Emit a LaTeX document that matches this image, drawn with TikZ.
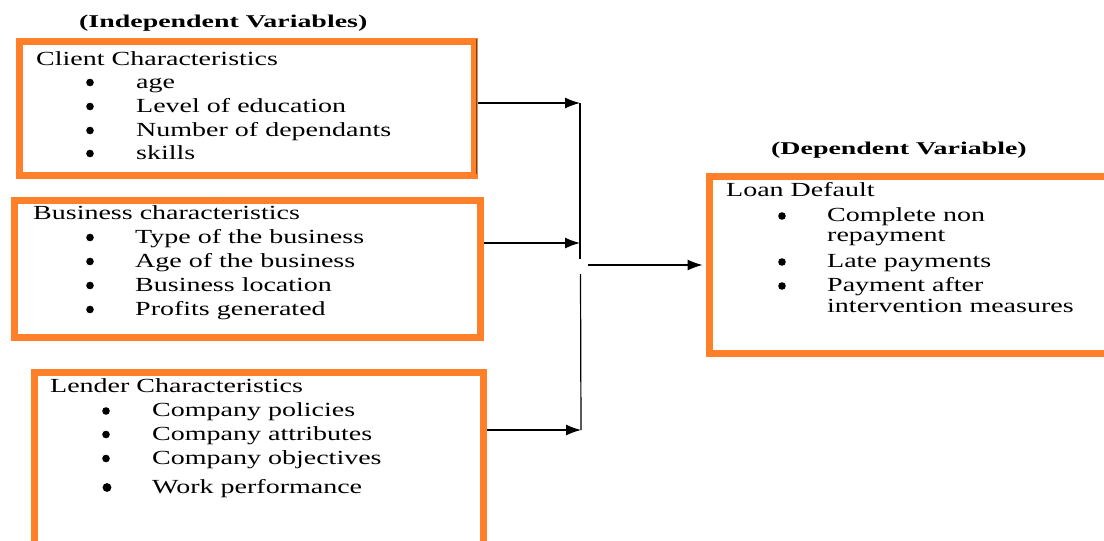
\documentclass[tikz,border=0pt]{standalone}
\usepackage{fontspec}
\setmainfont{Liberation Serif}[FakeStretch=1.4]
\newfontfamily\titlefont{Liberation Serif}[FakeStretch=1.55]
\usetikzlibrary{arrows.meta}
\definecolor{boxorange}{RGB}{255,128,41}
\pgfdeclarelayer{bg}
\pgfsetlayers{bg,main}
\newcommand{\mainsz}{\fontsize{20}{24}\selectfont}
\newcommand{\titlesz}{\fontsize{18}{21}\selectfont\titlefont\bfseries}
\begin{document}
\begin{tikzpicture}[x=1pt,y=-1pt,
  box/.style={draw=boxorange, line width=7pt, fill=none, rectangle, inner sep=0pt, anchor=north west},
  lbl/.style={anchor=base west, inner sep=0pt, font=\mainsz},
  ttl/.style={anchor=base west, inner sep=0pt, font=\titlesz},
  conn/.style={draw=black, line width=1.2pt},
  arr/.style={conn, -{Latex[length=15pt,width=11pt]}},
  dot/.style={fill=black}]
\path[use as bounding box, clip] (0,0) rectangle (1104,541);

% titles
\node[ttl] (tind) at (79,27) {(Independent Variables)};
\node[ttl] (tdep) at (771,154) {(Dependent Variable)};

% boxes
\node[box, minimum width=455.5pt, minimum height=134pt] (client) at (15.5,38) {};
\node[box, minimum width=466pt, minimum height=137pt] (biz) at (10.5,196.5) {};
\node[box, minimum width=449pt, minimum height=232pt] (lender) at (30.5,368.5) {};
\node[box, minimum width=445pt, minimum height=177pt] (loan) at (705.5,172.5) {};
\draw[black!70, line width=1pt] (476,39) -- (476,174);

% client text
\node[lbl] (c0) at (36,65) {Client Characteristics};
\node[lbl] (c1) at (136,88) {age};
\node[lbl] (c2) at (136,112) {Level of education};
\node[lbl] (c3) at (136,136) {Number of dependants};
\node[lbl] (c4) at (136,159) {skills};
\foreach \y in {88,112,136,159} \fill[dot] (90,\y-5.5) circle (3.8);

% business text
\node[lbl] (b0) at (33,219) {Business characteristics};
\node[lbl] (b1) at (135,243) {Type of the business};
\node[lbl] (b2) at (135,267) {Age of the business};
\node[lbl] (b3) at (135,291) {Business location};
\node[lbl] (b4) at (135,315) {Profits generated};
\foreach \y in {243,267,291,315} \fill[dot] (90,\y-5.5) circle (3.8);

% lender text
\node[lbl] (l0) at (50,392) {Lender Characteristics};
\node[lbl] (l1) at (152,416.5) {Company policies};
\node[lbl] (l2) at (152,440) {Company attributes};
\node[lbl] (l3) at (152,464) {Company objectives};
\node[lbl] (l4) at (152,493) {Work performance};
\foreach \y in {416.5,440,464} \fill[dot] (106,\y-5.5) circle (3.8);
\fill[dot] (107,493-5.5) circle (4.4);

% loan text
\node[lbl] (d0) at (726,196.5) {Loan Default};
\node[lbl] (d1) at (827,221.5) {Complete non};
\node[lbl] (d1b) at (827,241.5) {repayment};
\node[lbl] (d2) at (827,267.5) {Late payments};
\node[lbl] (d3) at (827,291.5) {Payment after};
\node[lbl] (d3b) at (827,312.5) {intervention measures};
\foreach \y in {221.5,267.5,291.5} \fill[dot] (782,\y-5.5) circle (3.8);

% connectors
\coordinate (t1) at (580,103);
\coordinate (t2) at (580,243);
\coordinate (t3) at (581,430);
\coordinate (g1) at (580,259);
\coordinate (g2) at (580.5,274);
\coordinate (m) at (588,265);
\begin{pgfonlayer}{bg}
\fill[white] (0,0) rectangle (1104,541);
\draw[conn] (t1) -- (g1);
\draw[conn] (g2) -- (t3);
\draw[arr] (client.east |- t1) -- (t1);
\draw[arr] (biz.east |- t2) -- (t2);
\draw[arr] (lender.east |- t3) -- (t3);
\draw[arr, shorten >=3pt] (m) -- (loan.west |- m);
\end{pgfonlayer}
\end{tikzpicture}
\end{document}
